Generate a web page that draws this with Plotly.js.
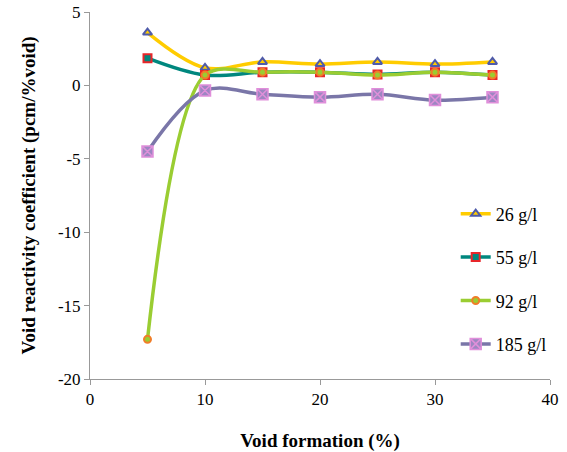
<!DOCTYPE html>
<html><head><meta charset="utf-8">
<script src="https://cdn.plot.ly/plotly-3.0.1.min.js"></script>
<style>html,body{margin:0;padding:0;background:#fff}#c{width:567px;height:452px}</style>
</head><body><div id="c"></div>
<script>
const voidPct = [5, 10, 15, 20, 25, 30, 35];
const names = ["26 g/l", "55 g/l", "92 g/l", "185 g/l"];
const s26 = [3.6, 1.2, 1.6, 1.45, 1.6, 1.45, 1.6];
const s55 = [1.85, 0.7, 0.9, 0.9, 0.75, 0.9, 0.7];
const s92 = [-17.3, 0.7, 0.9, 0.9, 0.7, 0.9, 0.7];
const s185 = [-4.5, -0.35, -0.6, -0.8, -0.6, -1.0, -0.8];
const yTickVals = [-20, -15, -10, -5, 0, 5];
const yTickText = ["-20", "-15", "-10", "-5", "0", "5"];

const styles = [
  {line:'#FFCC00', sym:'triangle-up', fill:'#FFCC00', mline:'#4F5BAA', size:8, sm:1},
  {line:'#00877E', sym:'square', fill:'#00877E', mline:'#E8262A', size:8, sm:1},
  {line:'#9ACD32', sym:'circle', fill:'#9ACD32', mline:'#F07D28', size:7, sm:0.9},
  {line:'#7A76A8', sym:'square-x', fill:'#9D86C2', mline:'#E08FDA', size:11, sm:1}
];
const series = [s26, s55, s92, s185];
const traces = series.map((ys, i) => ({
  x: voidPct, y: ys, name: names[i], type: 'scatter', mode: 'lines+markers',
  legendgroup: 'g' + i,
  line: {color: styles[i].line, width: 3.5, shape: 'spline', smoothing: styles[i].sm},
  marker: {symbol: styles[i].sym, size: styles[i].size, color: styles[i].fill,
           line: {color: styles[i].mline, width: i === 3 ? 1.5 : 2}}
}));

const font = {family: 'Liberation Serif', color: '#000'};
const layout = {
  width: 567, height: 452,
  margin: {l: 90, r: 17, t: 12, b: 73},
  paper_bgcolor: '#fff', plot_bgcolor: '#fff',
  showlegend: true,
  legend: {x: 0.795, y: 0.5, xanchor: 'left', yanchor: 'top',
           font: {...font, size: 18}, tracegroupgap: 17, traceorder: 'grouped',
           bgcolor: 'rgba(0,0,0,0)'},
  xaxis: {range: [0, 40], dtick: 10, showgrid: false, zeroline: false,
          showline: true, linecolor: '#999', linewidth: 1,
          ticks: 'outside', ticklen: 5, tickcolor: '#999',
          tickfont: {...font, size: 17},
          title: {text: '<b>Void formation (%)</b>', font: {...font, size: 19}, standoff: 27}},
  yaxis: {range: [-20, 5], tickvals: yTickVals, ticktext: yTickText, showgrid: false, zeroline: false,
          showline: true, linecolor: '#999', linewidth: 1,
          ticks: 'outside', ticklen: 5, tickcolor: '#999',
          tickfont: {...font, size: 17},
          title: {text: '<b>Void reactivity coefficient (pcm/%void)</b>', font: {...font, size: 19}, standoff: 17}}
};
Plotly.newPlot('c', traces, layout, {displayModeBar: false, staticPlot: true});
</script>
</body></html>
